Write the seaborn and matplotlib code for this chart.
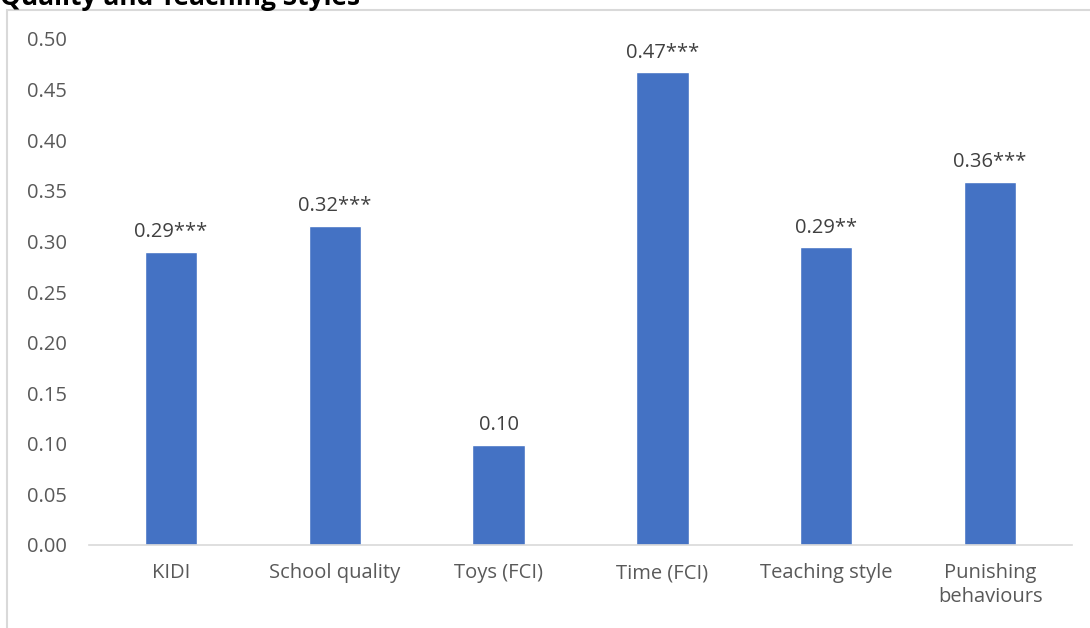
import matplotlib
matplotlib.use("Agg")
import matplotlib.pyplot as plt
import seaborn as sns
import pandas as pd
from matplotlib.patches import Rectangle

### Data
categories = ["KIDI", "School quality", "Toys (FCI)", "Time (FCI)",
              "Teaching style", "Punishing\nbehaviours"]
values = [0.29, 0.315, 0.099, 0.467, 0.294, 0.359]
bar_labels = ["0.29***", "0.32***", "0.10", "0.47***", "0.29**", "0.36***"]
yticks = [0.00, 0.05, 0.10, 0.15, 0.20, 0.25, 0.30, 0.35, 0.40, 0.45, 0.50]

sns.set_style("white")
plt.rcParams["font.family"] = ["Open Sans", "DejaVu Sans"]
grey = "#595959"

df = pd.DataFrame({"cat": categories, "val": values})

fig = plt.figure(figsize=(10.9, 6.28), dpi=100)
ax = fig.add_axes([89 / 1090, 1 - 545 / 628, (1072 - 89) / 1090, (545 - 39) / 628])

sns.barplot(data=df, x="cat", y="val", color="#4472C4", width=0.32,
            saturation=1, ax=ax)

for i, (v, lbl) in enumerate(zip(values, bar_labels)):
    ax.annotate(lbl, (i, v), xytext=(0, 7), textcoords="offset points",
                ha="center", va="bottom", fontsize=14.5, color="#404040")

ax.set_ylim(0, 0.5)
ax.set_yticks(yticks)
ax.set_yticklabels([f"{t:.2f}" for t in yticks])
ax.set_xlabel(""); ax.set_ylabel("")
for s in ["top", "right", "left"]:
    ax.spines[s].set_visible(False)
ax.spines["bottom"].set_color("#d9d9d9")
ax.spines["bottom"].set_linewidth(1.2)
ax.tick_params(axis="both", length=0, labelsize=14.5, labelcolor=grey)
ax.tick_params(axis="y", pad=16)
ax.tick_params(axis="x", pad=13)
for t in ax.get_xticklabels():
    t.set_linespacing(1.25)

# chart frame, partly cut off like the original screenshot
fig.patches.append(Rectangle((7 / 1090, -0.1), 1.2, 1 - 10 / 628 + 0.1,
                             transform=fig.transFigure, fill=False,
                             edgecolor="#d9d9d9", linewidth=1.5))
fig.text(0.0, 1 - 5 / 628, "Quality and Teaching Styles", fontsize=19,
         fontweight="bold", color="black", ha="left", va="baseline")

plt.savefig("out.png", dpi=100)
